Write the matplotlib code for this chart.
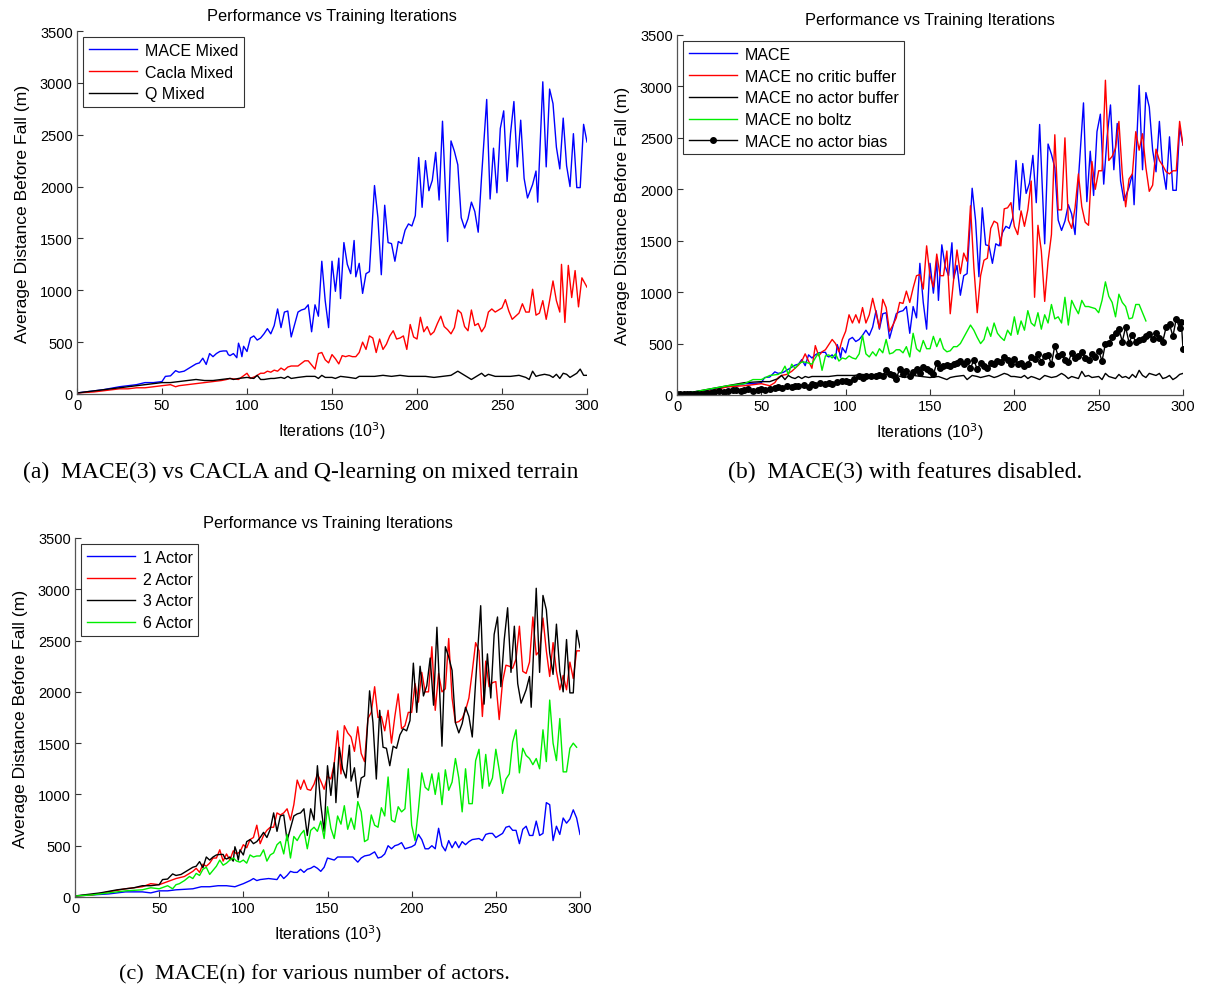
import numpy as np
import matplotlib
matplotlib.use('Agg')
import matplotlib.pyplot as plt

plt.rcParams['font.family'] = ['Liberation Sans', 'DejaVu Sans']

# (iteration in 10^3, average distance in m)
mace = [(0,10),(5,20),(10,30),(15,40),(20,55),(25,70),(30,80),(35,90),(40,110),(45,110),
        (50,120),(52,170),(55,175),(58,225),(60,210),(63,220),(65,240),(67,260),(70,290),
        (72,300),(74,345),(76,285),(78,390),(80,360),(82,390),(84,410),(86,415),(88,415),
        (89,380),(90,370),(92,390),(94,350),(95,490),(96,440),(97,360),(98,460),(100,410),
        (102,540),(104,560),(106,520),(108,540),(110,580),(112,630),(114,580),(116,660),
        (118,820),(120,640),(122,790),(124,800),(126,550),(128,670),(130,790),(132,810),
        (134,820),(136,860),(138,600),(140,860),(142,750),(144,1280),(146,900),(148,640),
        (150,1280),(152,990),(154,1310),(155,920),(157,1460),(159,1250),(161,1160),
        (163,1480),(164,1130),(166,1260),(168,970),(170,1160),(172,1180),(175,2010),
        (177,1700),(179,1150),(181,1820),(183,1460),(185,1450),(187,1280),(189,1470),
        (191,1450),(193,1580),(195,1640),(197,1620),(199,1720),(201,2280),(203,1800),
        (205,2250),(207,1960),(209,2060),(211,2330),(213,1870),(215,2630),(218,1470),
        (220,2440),(222,2340),(224,2210),(226,1700),(228,1600),(230,1690),(232,1850),
        (234,1760),(236,1560),(238,2100),(241,2840),(243,1880),(245,2370),(247,1940),
        (249,2560),(251,2730),(253,2050),(255,2510),(257,2820),(259,2190),(261,2640),
        (263,2080),(265,1890),(268,2020),(270,2150),(271,1850),(274,3010),(276,2190),
        (278,2940),(280,2800),(282,2380),(284,2170),(286,2660),(288,2200),(290,2000),
        (292,2510),(294,1990),(296,1990),(298,2600),(300,2430)]

cacla = [(0,10),(10,20),(20,40),(25,50),(30,50),(35,60),(40,60),(45,70),(50,80),(55,90),
         (58,70),(60,80),(65,90),(70,100),(75,110),(80,120),(85,130),(88,140),(90,150),
         (95,140),(100,200),(102,150),(105,170),(108,200),(110,200),(112,220),(114,210),
         (116,230),(118,220),(120,250),(122,230),(124,260),(126,270),(130,270),(134,320),
         (136,320),(138,280),(140,240),(142,390),(144,400),(146,330),(148,300),(150,380),
         (152,340),(154,290),(156,370),(158,360),(160,370),(162,360),(164,360),(166,400),
         (168,500),(170,430),(172,560),(174,540),(176,400),(178,530),(180,430),(182,480),
         (184,560),(186,610),(188,530),(190,540),(192,560),(194,430),(196,670),(198,550),
         (200,530),(202,740),(204,600),(206,650),(208,570),(210,600),(212,680),(214,750),
         (216,650),(218,620),(220,580),(222,640),(224,810),(226,780),(228,650),(230,610),
         (232,810),(234,660),(236,680),(238,600),(240,650),(242,790),(244,820),(246,790),
         (248,810),(250,830),(252,910),(254,800),(256,720),(258,750),(260,780),(262,870),
         (264,790),(266,790),(268,1010),(270,760),(272,780),(274,900),(276,720),(278,900),
         (280,1090),(282,900),(284,790),(285,1250),(287,690),(289,1240),(291,930),
         (293,1190),(295,840),(297,1120),(300,1030)]

q_mixed = [(0,10),(10,30),(20,50),(30,70),(40,90),(45,100),(50,110),(55,110),(60,120),
           (65,130),(70,140),(75,130),(80,130),(85,140),(90,150),(92,140),(95,150),
           (100,160),(104,150),(106,180),(108,140),(110,140),(114,150),(116,150),(120,160),
           (122,150),(124,170),(126,150),(130,160),(135,170),(140,170),(142,150),(144,180),
           (146,160),(150,160),(152,150),(155,170),(160,160),(164,150),(166,170),(170,170),
           (175,170),(180,180),(185,170),(190,180),(195,170),(200,170),(205,170),(210,160),
           (215,170),(220,180),(224,220),(226,200),(228,180),(232,140),(234,160),(236,180),
           (238,200),(240,170),(242,190),(244,180),(246,170),(250,170),(255,170),(260,180),
           (264,160),(266,140),(268,220),(270,170),(272,180),(275,190),(278,180),(280,160),
           (282,190),(284,150),(286,200),(288,190),(290,160),(292,180),(294,200),(296,240),
           (298,180),(300,180)]

no_critic_buf = [(0,10),(10,20),(20,40),(30,80),(40,90),(50,110),(55,90),(58,120),(60,170),
                 (62,190),(65,200),(68,230),(70,260),(72,290),(74,330),(76,400),(78,330),
                 (80,260),(82,480),(84,380),(86,420),(88,440),(90,490),(92,540),(94,500),
                 (96,420),(98,540),(100,620),(102,780),(104,700),(106,780),(108,700),
                 (110,850),(112,700),(114,780),(116,940),(118,800),(120,650),(122,930),
                 (124,850),(126,620),(128,680),(130,750),(132,900),(134,890),(136,1010),
                 (138,900),(140,1040),(142,1160),(144,1170),(146,1030),(148,1450),(150,1160),
                 (152,1050),(154,1370),(156,1160),(158,1160),(160,1400),(162,790),(164,1120),
                 (166,1410),(168,1180),(170,1380),(172,1300),(174,1840),(176,1240),(178,800),
                 (180,1160),(182,1310),(184,1330),(186,1620),(188,1690),(190,1670),(192,1450),
                 (194,1810),(196,1820),(198,1870),(200,1640),(202,1560),(204,1790),(206,1640),
                 (208,1800),(210,2080),(212,950),(214,1650),(216,1400),(218,910),(220,1300),
                 (222,1560),(224,2530),(226,1800),(228,1800),(230,2500),(232,1700),(234,1620),
                 (236,1820),(238,2150),(240,1830),(242,1680),(244,1650),(246,2270),(248,2000),
                 (250,2180),(252,2180),(254,3060),(256,2280),(258,2320),(260,2400),(262,2660),
                 (264,2150),(266,1830),(268,2100),(270,2150),(272,2560),(274,2380),(276,2540),
                 (278,2210),(280,1980),(282,2040),(284,2390),(286,2280),(288,2230),(290,2170),
                 (292,2150),(294,2180),(296,2180),(298,2660),(300,2430)]

no_actor_buf = [(0,10),(10,30),(20,60),(30,90),(40,120),(50,130),(55,130),(60,160),(62,190),
                (64,150),(66,190),(68,170),(70,160),(72,180),(74,160),(76,180),(78,170),
                (80,180),(85,180),(90,180),(95,190),(100,190),(105,190),(110,200),(115,190),
                (120,190),(125,200),(130,190),(135,170),(140,190),(145,180),(150,170),
                (155,180),(160,150),(162,170),(165,180),(170,190),(172,150),(175,190),
                (178,180),(180,170),(185,190),(188,170),(190,180),(194,210),(196,200),
                (198,180),(200,180),(204,170),(206,190),(208,160),(210,180),(212,170),
                (215,150),(218,190),(220,180),(222,170),(225,180),(228,210),(230,190),
                (232,160),(234,180),(236,170),(238,160),(240,230),(242,180),(244,190),
                (246,170),(250,180),(252,150),(254,210),(256,180),(258,170),(260,160),
                (262,200),(264,170),(266,180),(268,160),(270,200),(272,170),(274,240),
                (276,190),(278,170),(280,210),(282,200),(284,190),(286,210),(288,160),
                (290,170),(292,190),(294,150),(296,170),(298,200),(300,210)]

no_boltz = [(0,10),(10,30),(20,60),(30,90),(40,110),(45,150),(50,150),(55,190),(60,200),
            (62,220),(64,280),(66,200),(68,300),(70,260),(72,300),(74,320),(76,320),(78,310),
            (80,300),(82,360),(84,410),(86,240),(88,380),(90,390),(92,360),(94,400),(96,330),
            (98,360),(100,350),(102,380),(104,360),(106,350),(108,400),(110,580),(112,400),
            (114,370),(116,420),(118,380),(120,450),(122,410),(124,540),(126,400),(128,410),
            (130,440),(132,440),(134,410),(136,470),(138,370),(140,600),(142,450),(144,420),
            (146,530),(148,450),(150,450),(152,570),(154,470),(156,550),(158,450),(160,420),
            (162,430),(164,470),(166,470),(168,500),(170,560),(172,620),(174,680),(176,630),
            (178,560),(180,500),(182,540),(184,660),(186,570),(188,700),(190,600),(192,560),
            (194,530),(196,630),(198,580),(200,760),(202,590),(204,720),(206,630),(208,820),
            (210,700),(212,670),(214,800),(216,640),(218,780),(220,700),(222,880),(224,740),
            (226,760),(228,700),(230,950),(232,680),(234,920),(236,850),(238,790),(240,920),
            (242,860),(244,860),(246,850),(248,840),(250,800),(252,920),(254,1100),(256,960),
            (258,900),(260,760),(262,980),(264,900),(266,860),(268,740),(270,750),(272,880),
            (274,880),(276,800),(278,720)]

no_actor_bias = [(0,10),(2,10),(4,10),(6,10),(8,10),(10,10),(12,10),(14,10),(16,10),(18,15),
                 (20,20),(22,30),(25,40),(28,30),(30,40),(33,50),(35,50),(38,40),(40,50),
                 (42,60),(45,40),(48,50),(50,60),(52,50),(55,60),(58,70),(60,80),(62,70),
                 (65,90),(68,80),(70,90),(72,90),(75,100),(78,80),(80,110),(82,100),(85,120),
                 (88,110),(90,120),(92,110),(95,130),(98,140),(100,140),(102,130),(105,160),
                 (108,180),(110,170),(112,180),(115,180),(118,180),(120,190),(122,180),
                 (124,240),(126,200),(128,190),(130,160),(132,250),(134,200),(136,230),
                 (138,180),(140,220),(142,250),(144,210),(146,270),(148,250),(150,230),
                 (152,200),(154,310),(156,260),(158,280),(160,290),(162,280),(164,300),
                 (166,310),(168,330),(170,300),(172,330),(174,260),(176,340),(178,250),
                 (180,310),(182,280),(184,260),(186,310),(188,300),(190,330),(192,320),
                 (194,370),(196,340),(198,300),(200,350),(202,300),(204,310),(206,280),
                 (208,300),(210,370),(212,350),(214,400),(216,320),(218,380),(220,390),
                 (222,300),(224,480),(226,380),(228,400),(230,340),(232,320),(234,410),
                 (236,360),(238,380),(240,420),(242,360),(244,340),(246,400),(248,370),
                 (250,430),(252,330),(254,500),(256,510),(258,560),(260,600),(262,640),
                 (264,520),(266,660),(268,510),(270,580),(272,520),(274,530),(276,540),
                 (278,570),(280,590),(282,540),(284,600),(286,550),(288,520),(290,660),
                 (292,690),(294,570),(296,740),(298,650),(299,710),(300,450)]

actor1 = [(0,10),(10,20),(20,30),(30,50),(40,50),(45,40),(50,60),(55,60),(60,70),(70,80),
          (75,100),(80,100),(85,110),(90,110),(95,100),(100,130),(104,160),(106,180),
          (108,160),(110,170),(115,180),(120,170),(122,220),(124,180),(126,210),(128,250),
          (130,240),(132,240),(134,270),(136,240),(138,270),(140,280),(142,300),(144,280),
          (146,250),(148,290),(150,380),(152,370),(154,360),(156,390),(160,390),(165,390),
          (168,340),(170,380),(172,400),(175,410),(178,440),(180,380),(182,390),(184,420),
          (186,500),(188,470),(190,500),(192,510),(194,530),(196,470),(198,480),(200,490),
          (202,510),(204,610),(206,560),(208,470),(210,470),(212,500),(214,470),(216,670),
          (218,500),(220,450),(222,550),(224,480),(226,540),(228,480),(230,540),(232,510),
          (234,540),(236,560),(240,570),(242,550),(244,610),(246,620),(248,620),(250,580),
          (252,600),(254,620),(256,680),(258,690),(260,650),(262,650),(264,520),(266,660),
          (268,690),(270,600),(272,600),(274,740),(276,600),(278,620),(280,920),(282,900),
          (284,550),(286,690),(288,610),(290,770),(292,720),(294,760),(296,850),(298,770),
          (300,610)]

actor2 = [(0,10),(10,20),(20,50),(30,80),(35,90),(40,100),(45,130),(50,120),(55,150),
          (60,180),(65,200),(70,250),(72,280),(74,240),(76,320),(78,300),(80,330),(82,380),
          (84,380),(86,460),(88,350),(90,420),(92,360),(94,450),(96,420),(98,440),(100,510),
          (102,480),(104,560),(106,580),(108,700),(110,520),(112,600),(114,650),(116,680),
          (118,680),(120,820),(122,800),(124,820),(126,860),(128,750),(130,900),(132,1140),
          (134,1050),(136,1140),(138,1050),(140,1040),(142,1100),(144,1200),(146,1130),
          (148,1050),(150,1180),(152,1150),(154,1300),(156,1620),(158,1200),(160,1670),
          (162,1600),(164,1560),(166,1420),(168,1660),(170,1400),(172,1320),(174,1740),
          (176,1800),(178,2050),(180,1750),(182,1760),(184,1620),(186,1820),(188,1500),
          (190,1760),(192,1980),(194,1640),(196,1670),(198,1800),(200,1800),(202,2080),
          (204,1900),(206,2190),(208,2000),(210,2000),(212,2440),(214,1820),(216,2180),
          (218,2000),(220,2030),(222,2520),(224,1940),(226,1700),(228,1710),(230,1740),
          (232,1820),(234,1940),(236,2200),(238,2480),(240,2400),(242,1760),(244,2300),
          (246,2050),(248,2090),(250,2100),(252,1730),(254,2100),(256,2260),(258,2250),
          (260,2230),(262,2320),(264,2640),(266,2200),(268,2180),(270,2290),(272,2730),
          (274,2360),(276,2400),(278,2720),(280,2400),(282,2150),(284,2480),(286,2200),
          (288,2020),(290,2160),(292,2020),(294,2290),(296,2130),(298,2400),(300,2400)]

actor6 = [(0,10),(10,20),(20,40),(30,60),(40,70),(45,90),(50,80),(55,110),(58,80),(60,120),
          (62,130),(65,160),(68,200),(70,180),(72,230),(74,210),(76,270),(78,290),(80,220),
          (82,260),(84,300),(86,360),(88,310),(90,330),(92,360),(94,380),(96,350),(98,340),
          (100,360),(102,330),(104,410),(106,390),(108,400),(110,400),(112,460),(114,350),
          (116,410),(118,430),(120,510),(122,540),(124,420),(126,610),(128,380),(130,590),
          (132,550),(134,610),(136,650),(138,470),(140,650),(142,680),(144,640),(146,740),
          (148,570),(150,880),(152,670),(154,570),(156,790),(158,710),(160,890),(162,660),
          (164,770),(166,660),(168,930),(170,830),(172,540),(174,560),(176,800),(178,700),
          (180,680),(182,870),(184,790),(186,1170),(188,750),(190,730),(192,880),(194,830),
          (196,860),(198,1250),(200,700),(202,550),(204,850),(206,1210),(208,1070),
          (210,1040),(212,1200),(214,1000),(216,1210),(218,900),(220,1240),(222,1040),
          (224,1120),(226,1350),(228,1160),(230,830),(232,1250),(234,910),(236,910),
          (238,1330),(240,1440),(242,1060),(244,1390),(246,1080),(248,1160),(250,1440),
          (252,1240),(254,1010),(256,1150),(258,1200),(260,1510),(262,1630),(264,1210),
          (266,1450),(268,1380),(270,1350),(272,1290),(274,1350),(276,1250),(278,1630),
          (280,1320),(282,1920),(284,1500),(286,1330),(288,1740),(290,1220),(292,1220),
          (294,1450),(296,1500),(298,1460)]


def xy(pairs):
    arr = np.array(pairs, dtype=float)
    return arr[:, 0], arr[:, 1]


def setup(ax):
    ax.set_xlim(0, 300)
    ax.set_ylim(0, 3500)
    ax.set_xticks(np.arange(0, 301, 50))
    ax.set_yticks(np.arange(0, 3501, 500))
    ax.spines['right'].set_visible(False)
    ax.spines['top'].set_visible(False)
    for s in ('left', 'bottom'):
        ax.spines[s].set_color('#555555')
        ax.spines[s].set_linewidth(0.9)
    ax.tick_params(direction='in', length=4, width=0.8, color='#333333',
                   labelsize=10.5, pad=3)
    ax.set_title('Performance vs Training Iterations', fontsize=11.8, pad=8)
    ax.set_xlabel('Iterations (10$^3$)', fontsize=11.5, labelpad=5)
    ax.set_ylabel('Average Distance Before Fall (m)', fontsize=12.6, labelpad=7)


def legend(ax):
    leg = ax.legend(loc='upper left', fontsize=11.5, frameon=True, fancybox=False,
                    edgecolor='black', handlelength=3.0, borderaxespad=0.4,
                    labelspacing=0.42, handletextpad=0.5, borderpad=0.35)
    leg.get_frame().set_linewidth(0.8)


lw = 1.0
fig = plt.figure(figsize=(12.05, 9.87), dpi=100)

# (a)
ax = fig.add_axes([77/1205, 1 - 395/987, 510/1205, 363/987])
ax.plot(*xy(mace), color='#0000ff', lw=lw, label='MACE Mixed')
ax.plot(*xy(cacla), color='#ff0000', lw=lw, label='Cacla Mixed')
ax.plot(*xy(q_mixed), color='black', lw=lw, label='Q Mixed')
setup(ax)
legend(ax)

# (b)
ax = fig.add_axes([677/1205, 1 - 396/987, 506/1205, 360/987])
ax.plot(*xy(mace), color='#0000ff', lw=lw, label='MACE')
ax.plot(*xy(no_critic_buf), color='#ff0000', lw=lw, label='MACE no critic buffer')
ax.plot(*xy(no_actor_buf), color='black', lw=lw, label='MACE no actor buffer')
ax.plot(*xy(no_boltz), color='#00ee00', lw=lw, label='MACE no boltz')
ax.plot(*xy(no_actor_bias), color='black', lw=lw, marker='o', ms=4,
        label='MACE no actor bias')
setup(ax)
legend(ax)

# (c)
ax = fig.add_axes([75/1205, 1 - 898/987, 505/1205, 359/987])
ax.plot(*xy(actor1), color='#0000ff', lw=lw, label='1 Actor')
ax.plot(*xy(actor2), color='#ff0000', lw=lw, label='2 Actor')
ax.plot(*xy(mace), color='black', lw=lw, label='3 Actor')
ax.plot(*xy(actor6), color='#00ee00', lw=lw, label='6 Actor')
setup(ax)
legend(ax)

cap = dict(family='Liberation Serif', ha='center', va='center')
fig.text(301/1205, 1 - 472/987, '(a)  MACE(3) vs CACLA and Q-learning on mixed terrain',
         fontsize=17, **cap)
fig.text(905/1205, 1 - 472/987, '(b)  MACE(3) with features disabled.', fontsize=17, **cap)
fig.text(314/1205, 1 - 975/987, '(c)  MACE(n) for various number of actors.',
         fontsize=16, **cap)

fig.savefig('out.png', dpi=100)
